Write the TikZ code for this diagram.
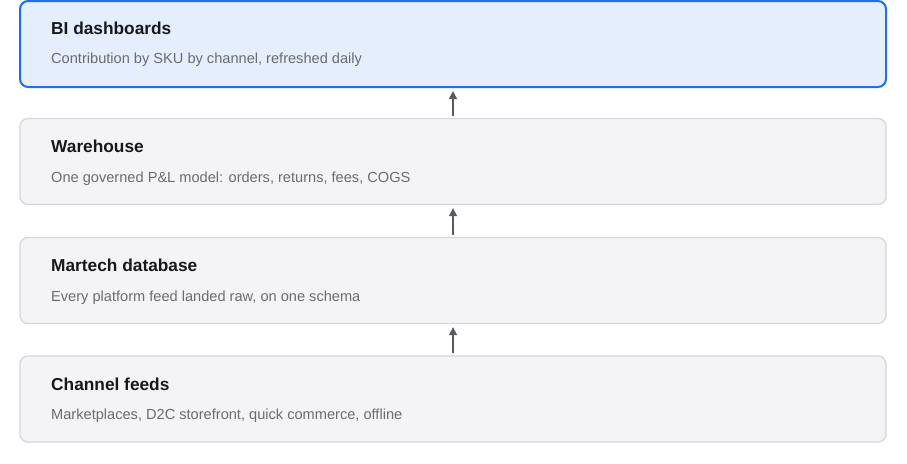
\documentclass[tikz,border=0pt]{standalone}
\usepackage{fontspec}
\setmainfont{Liberation Sans}
\usetikzlibrary{arrows.meta}
\definecolor{bluefill}{HTML}{E4EEFD}
\definecolor{blueline}{HTML}{1F6FEB}
\definecolor{grayfill}{HTML}{F4F4F6}
\definecolor{grayline}{HTML}{D6D6DC}
\definecolor{titletext}{HTML}{18181B}
\definecolor{subtext}{HTML}{6B6B73}
\definecolor{arrowgray}{HTML}{5A5A62}
\begin{document}
\begin{tikzpicture}[x=1pt,y=-1pt,
    layer/.style={draw=grayline,fill=grayfill,line width=1.3pt,rounded corners=8pt,
      minimum width=866pt,minimum height=86pt,inner sep=0pt},
    toplayer/.style={layer,draw=blueline,fill=bluefill,line width=2pt},
    layertitle/.style={anchor=base west,inner sep=0pt,font=\fontsize{17.3}{20}\selectfont\bfseries,text=titletext},
    layernote/.style={anchor=base west,inner sep=0pt,font=\fontsize{14.6}{17}\selectfont,text=subtext},
    feed/.style={-{Triangle[length=8pt,width=8pt]},line width=1.6pt,draw=arrowgray,shorten <=2pt,shorten >=3pt}]
  \useasboundingbox (0,0) rectangle (907,463);
  % the four layers, top to bottom
  \node[toplayer] (bi) at (453,44) {};
  \node[layer] (warehouse) at (453,161.5) {};
  \node[layer] (martech) at (453,280.5) {};
  \node[layer] (channels) at (453,399) {};
  \node[layertitle] (bititle) at (51,34) {BI dashboards};
  \node[layernote] (binote) at (51,63) {Contribution by SKU by channel, refreshed daily};
  \node[layertitle] (whtitle) at (51,152.5) {Warehouse};
  \node[layernote] (whnote) at (51,182) {One governed P\&L model: orders, returns, fees, COGS};
  \node[layertitle] (mttitle) at (51,271.5) {Martech database};
  \node[layernote] (mtnote) at (51,301) {Every platform feed landed raw, on one schema};
  \node[layertitle] (chtitle) at (51,390) {Channel feeds};
  \node[layernote] (chnote) at (51,419.5) {Marketplaces, D2C storefront, quick commerce, offline};
  % data flows upward
  \draw[feed] (channels.north) -- (martech.south);
  \draw[feed] (martech.north) -- (warehouse.south);
  \draw[feed] (warehouse.north) -- (bi.south);
\end{tikzpicture}
\end{document}
